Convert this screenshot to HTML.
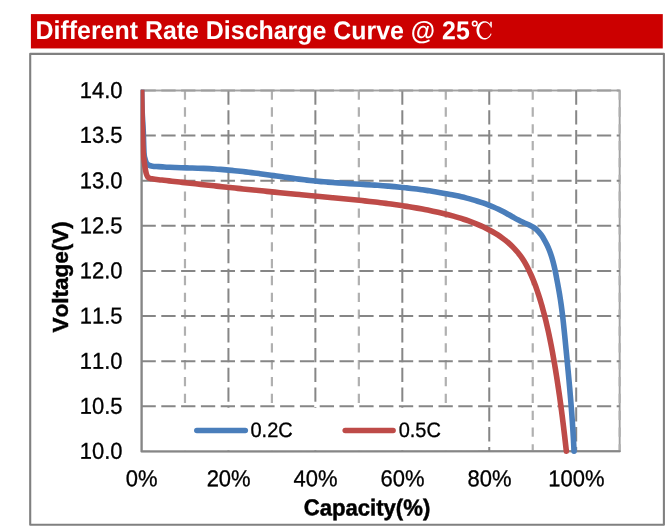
<!DOCTYPE html>
<html><head><meta charset="utf-8"><title>Different Rate Discharge Curve</title>
<style>
html,body{margin:0;padding:0;background:#fff;}
body{width:671px;height:531px;overflow:hidden;position:relative;font-family:"Liberation Sans",sans-serif;}
svg{position:absolute;left:0;top:0;will-change:transform;}
svg text{font-family:"Liberation Sans",sans-serif;fill:#000;font-kerning:none;}
svg text.r{stroke:#000;stroke-width:0.3px;}
svg text.bk{stroke:#000;stroke-width:0.45px;}
svg text.b{font-weight:bold;}
</style></head>
<body>
<svg width="671" height="531" viewBox="0 0 671 531">
<rect x="30.9" y="14.1" width="631.9" height="34.35" fill="#cc0000"/>
<text transform="translate(35.55 39.0) rotate(0.03) scale(0.9975 1.03)" font-size="25" class="b" style="fill:#fff">Different Rate Discharge Curve @ 25</text>
<rect x="30.2" y="53.85" width="633.7" height="470.85" fill="#fff" stroke="#808080" stroke-width="2.1" stroke-linejoin="round"/>
<rect x="141.50" y="90.50" width="478.17" height="360.75" fill="none" stroke="#a2a2a2" stroke-width="1.9"/>
<line x1="184.97" y1="90.50" x2="184.97" y2="451.25" stroke="#b0b0b0" stroke-width="2.2" stroke-dasharray="9.3 7.55"/>
<line x1="271.91" y1="90.50" x2="271.91" y2="451.25" stroke="#b0b0b0" stroke-width="2.2" stroke-dasharray="9.3 7.55"/>
<line x1="358.85" y1="90.50" x2="358.85" y2="451.25" stroke="#b0b0b0" stroke-width="2.2" stroke-dasharray="9.3 7.55"/>
<line x1="445.79" y1="90.50" x2="445.79" y2="451.25" stroke="#b0b0b0" stroke-width="2.2" stroke-dasharray="9.3 7.55"/>
<line x1="532.73" y1="90.50" x2="532.73" y2="451.25" stroke="#b0b0b0" stroke-width="2.2" stroke-dasharray="9.3 7.55"/>
<line x1="619.67" y1="90.50" x2="619.67" y2="451.25" stroke="#b0b0b0" stroke-width="2.2" stroke-dasharray="9.3 7.55"/>
<line x1="228.44" y1="90.50" x2="228.44" y2="451.25" stroke="#868686" stroke-width="2" stroke-dasharray="14.3 5.5"/>
<line x1="315.38" y1="90.50" x2="315.38" y2="451.25" stroke="#868686" stroke-width="2" stroke-dasharray="14.3 5.5"/>
<line x1="402.32" y1="90.50" x2="402.32" y2="451.25" stroke="#868686" stroke-width="2" stroke-dasharray="14.3 5.5"/>
<line x1="489.26" y1="90.50" x2="489.26" y2="451.25" stroke="#868686" stroke-width="2" stroke-dasharray="14.3 5.5"/>
<line x1="576.20" y1="90.50" x2="576.20" y2="451.25" stroke="#868686" stroke-width="2" stroke-dasharray="14.3 5.5"/>
<rect x="150" y="407.95" width="328" height="42.30" fill="#fff"/>
<line x1="141.50" y1="90.50" x2="619.67" y2="90.50" stroke="#9e9e9e" stroke-width="2" stroke-dasharray="14.3 5.5"/>
<line x1="141.50" y1="135.40" x2="619.67" y2="135.40" stroke="#868686" stroke-width="2" stroke-dasharray="14.3 5.5"/>
<line x1="141.50" y1="180.85" x2="619.67" y2="180.85" stroke="#868686" stroke-width="2" stroke-dasharray="14.3 5.5"/>
<line x1="141.50" y1="225.85" x2="619.67" y2="225.85" stroke="#868686" stroke-width="2" stroke-dasharray="14.3 5.5"/>
<line x1="141.50" y1="270.90" x2="619.67" y2="270.90" stroke="#868686" stroke-width="2" stroke-dasharray="14.3 5.5"/>
<line x1="141.50" y1="315.95" x2="619.67" y2="315.95" stroke="#868686" stroke-width="2" stroke-dasharray="14.3 5.5"/>
<line x1="141.50" y1="361.25" x2="619.67" y2="361.25" stroke="#868686" stroke-width="2" stroke-dasharray="14.3 5.5"/>
<line x1="141.50" y1="406.35" x2="619.67" y2="406.35" stroke="#868686" stroke-width="2" stroke-dasharray="14.3 5.5"/>
<path d="M141.65 90.50 L141.65 451.50 L619.67 451.15" fill="none" stroke="#868686" stroke-width="2.0" stroke-linejoin="round" stroke-linecap="round"/>
<clipPath id="pc"><rect x="140.75" y="89.7" width="500" height="366"/></clipPath>
<path clip-path="url(#pc)" d="M141.65 88.00 C141.72 91.67 141.84 103.00 142.10 110.00 C142.36 117.00 142.88 122.90 143.20 130.00 C143.52 137.10 143.72 147.85 144.00 152.60 C144.28 157.35 144.50 156.78 144.90 158.50 C145.30 160.22 145.72 161.77 146.40 162.90 C147.08 164.03 147.98 164.75 149.00 165.30 C150.02 165.85 150.90 165.98 152.50 166.20 C154.10 166.42 156.65 166.49 158.60 166.63 C160.55 166.76 162.35 166.90 164.22 167.01 C166.09 167.13 167.97 167.22 169.85 167.31 C171.72 167.39 173.60 167.47 175.48 167.53 C177.36 167.60 179.24 167.66 181.12 167.71 C182.99 167.77 184.87 167.82 186.75 167.87 C188.63 167.92 190.51 167.97 192.39 168.02 C194.27 168.07 196.15 168.13 198.03 168.19 C199.91 168.25 201.79 168.32 203.67 168.40 C205.54 168.48 207.42 168.57 209.30 168.67 C211.17 168.77 213.05 168.89 214.92 169.01 C216.80 169.13 218.67 169.27 220.55 169.41 C222.42 169.56 224.29 169.71 226.16 169.88 C228.04 170.04 229.91 170.21 231.78 170.39 C233.65 170.58 235.52 170.77 237.39 170.96 C239.25 171.16 241.12 171.37 242.99 171.58 C244.86 171.79 246.72 172.01 248.59 172.24 C250.45 172.47 252.32 172.70 254.18 172.94 C256.05 173.18 257.91 173.42 259.77 173.67 C261.64 173.92 263.50 174.18 265.36 174.44 C267.22 174.69 269.08 174.96 270.95 175.22 C272.81 175.48 274.67 175.75 276.53 176.01 C278.39 176.28 280.25 176.55 282.11 176.81 C283.97 177.07 285.83 177.34 287.69 177.60 C289.55 177.86 291.41 178.12 293.27 178.37 C295.13 178.62 297.00 178.87 298.86 179.11 C300.72 179.35 302.58 179.59 304.45 179.81 C306.31 180.04 308.18 180.26 310.04 180.47 C311.91 180.68 313.78 180.88 315.64 181.07 C317.51 181.26 319.38 181.43 321.25 181.60 C323.12 181.77 325.00 181.93 326.87 182.08 C328.74 182.23 330.61 182.37 332.49 182.51 C334.36 182.65 336.24 182.78 338.11 182.90 C339.99 183.03 341.87 183.15 343.74 183.26 C345.62 183.38 347.50 183.49 349.37 183.60 C351.25 183.71 353.13 183.82 355.01 183.93 C356.88 184.04 358.76 184.15 360.64 184.26 C362.52 184.36 364.39 184.47 366.27 184.59 C368.15 184.70 370.03 184.81 371.90 184.93 C373.78 185.05 375.65 185.18 377.53 185.31 C379.41 185.44 381.28 185.57 383.15 185.71 C385.03 185.86 386.90 186.00 388.77 186.16 C390.65 186.32 392.52 186.48 394.39 186.65 C396.26 186.82 398.13 187.00 400.00 187.19 C401.87 187.37 403.73 187.57 405.60 187.77 C407.47 187.97 409.34 188.19 411.20 188.41 C413.07 188.63 414.93 188.86 416.79 189.09 C418.66 189.33 420.52 189.58 422.38 189.84 C424.24 190.09 426.10 190.36 427.96 190.64 C429.82 190.91 431.68 191.20 433.53 191.50 C435.39 191.79 437.25 192.10 439.10 192.42 C440.96 192.74 442.81 193.06 444.66 193.40 C446.51 193.74 448.37 194.09 450.21 194.46 C452.06 194.82 453.91 195.20 455.75 195.59 C457.59 195.98 459.43 196.39 461.27 196.82 C463.10 197.24 464.93 197.69 466.75 198.15 C468.57 198.62 470.39 199.10 472.19 199.61 C474.00 200.12 475.80 200.65 477.59 201.21 C479.38 201.77 481.16 202.35 482.93 202.96 C484.70 203.58 486.46 204.21 488.21 204.88 C489.95 205.56 491.69 206.25 493.41 206.99 C495.13 207.72 496.84 208.49 498.53 209.29 C500.23 210.09 501.90 210.93 503.57 211.81 C505.23 212.68 506.87 213.61 508.51 214.53 C510.16 215.45 511.79 216.41 513.44 217.32 C515.09 218.24 516.74 219.17 518.42 220.03 C520.10 220.90 521.81 221.71 523.53 222.50 C525.25 223.29 527.05 223.96 528.73 224.78 C530.42 225.61 532.13 226.42 533.66 227.44 C535.20 228.46 536.64 229.60 537.94 230.89 C539.24 232.19 540.37 233.68 541.45 235.21 C542.54 236.73 543.51 238.38 544.44 240.03 C545.38 241.67 546.25 243.37 547.07 245.08 C547.89 246.79 548.65 248.53 549.34 250.29 C550.04 252.04 550.67 253.81 551.26 255.59 C551.85 257.38 552.37 259.17 552.86 260.97 C553.36 262.78 553.80 264.59 554.22 266.41 C554.65 268.24 555.03 270.07 555.41 271.90 C555.79 273.73 556.14 275.58 556.49 277.42 C556.85 279.26 557.19 281.11 557.54 282.96 C557.88 284.81 558.22 286.66 558.55 288.51 C558.88 290.37 559.20 292.22 559.51 294.08 C559.82 295.94 560.12 297.80 560.41 299.66 C560.70 301.52 560.97 303.38 561.23 305.24 C561.49 307.10 561.74 308.96 561.98 310.82 C562.22 312.69 562.44 314.55 562.66 316.42 C562.88 318.28 563.09 320.15 563.30 322.01 C563.50 323.88 563.70 325.74 563.89 327.61 C564.09 329.48 564.28 331.35 564.47 333.21 C564.65 335.08 564.84 336.95 565.02 338.82 C565.21 340.69 565.39 342.56 565.57 344.43 C565.76 346.29 565.94 348.16 566.12 350.03 C566.30 351.90 566.49 353.77 566.67 355.64 C566.85 357.51 567.03 359.38 567.21 361.25 C567.39 363.13 567.57 365.00 567.74 366.87 C567.92 368.74 568.10 370.61 568.27 372.48 C568.44 374.35 568.62 376.22 568.79 378.10 C568.96 379.97 569.13 381.84 569.29 383.71 C569.46 385.59 569.63 387.46 569.79 389.33 C569.95 391.20 570.11 393.08 570.27 394.95 C570.43 396.82 570.58 398.70 570.74 400.57 C570.89 402.44 571.04 404.32 571.19 406.19 C571.33 408.07 571.48 409.94 571.62 411.81 C571.76 413.69 571.90 415.56 572.03 417.44 C572.17 419.31 572.30 421.19 572.43 423.06 C572.55 424.94 572.68 426.81 572.80 428.69 C572.92 430.56 573.03 432.44 573.14 434.31 C573.26 436.19 573.36 438.06 573.47 439.94 C573.57 441.82 573.67 443.69 573.76 445.57 C573.86 447.44 573.99 450.26 574.03 451.19" fill="none" stroke="#4a7ebb" stroke-width="5.60" stroke-linecap="round" stroke-linejoin="round"/>
<path clip-path="url(#pc)" d="M141.65 88.00 C141.72 92.67 141.96 109.00 142.10 116.00 C142.24 123.00 142.32 123.90 142.50 130.00 C142.68 136.10 142.85 146.93 143.20 152.60 C143.55 158.27 144.23 161.17 144.60 164.00 C144.97 166.83 145.10 167.93 145.40 169.60 C145.70 171.27 145.98 172.72 146.40 174.00 C146.82 175.28 147.30 176.57 147.90 177.30 C148.50 178.03 149.32 178.15 150.00 178.40 C150.68 178.65 150.57 178.58 152.00 178.80 C153.43 179.02 156.60 179.45 158.58 179.70 C160.55 179.95 162.10 180.09 163.86 180.29 C165.62 180.49 167.38 180.69 169.14 180.89 C170.90 181.08 172.67 181.28 174.43 181.48 C176.19 181.68 177.95 181.87 179.71 182.07 C181.47 182.26 183.23 182.46 184.99 182.65 C186.75 182.85 188.51 183.04 190.27 183.24 C192.03 183.43 193.79 183.63 195.55 183.82 C197.31 184.01 199.07 184.20 200.83 184.40 C202.59 184.59 204.35 184.78 206.11 184.97 C207.87 185.16 209.63 185.35 211.39 185.54 C213.15 185.73 214.91 185.92 216.67 186.11 C218.43 186.30 220.19 186.49 221.95 186.68 C223.71 186.87 225.47 187.06 227.23 187.24 C228.99 187.43 230.75 187.62 232.51 187.80 C234.27 187.99 236.03 188.17 237.79 188.36 C239.55 188.54 241.31 188.73 243.07 188.91 C244.83 189.09 246.59 189.28 248.35 189.46 C250.11 189.64 251.87 189.82 253.63 190.00 C255.39 190.19 257.15 190.37 258.91 190.55 C260.67 190.73 262.43 190.91 264.19 191.08 C265.95 191.26 267.71 191.44 269.47 191.62 C271.23 191.79 272.99 191.97 274.75 192.15 C276.52 192.32 278.28 192.50 280.04 192.67 C281.80 192.85 283.56 193.02 285.32 193.19 C287.08 193.37 288.85 193.54 290.61 193.71 C292.37 193.88 294.13 194.05 295.90 194.22 C297.66 194.40 299.42 194.56 301.18 194.73 C302.95 194.90 304.71 195.07 306.47 195.24 C308.24 195.41 310.00 195.57 311.76 195.74 C313.53 195.90 315.29 196.07 317.05 196.23 C318.82 196.40 320.58 196.56 322.35 196.72 C324.11 196.89 325.88 197.05 327.64 197.21 C329.41 197.38 331.17 197.54 332.93 197.71 C334.70 197.87 336.46 198.04 338.23 198.20 C339.99 198.37 341.76 198.54 343.52 198.71 C345.29 198.88 347.05 199.05 348.81 199.22 C350.58 199.39 352.34 199.57 354.10 199.75 C355.86 199.93 357.63 200.11 359.39 200.29 C361.15 200.48 362.91 200.66 364.67 200.85 C366.43 201.04 368.19 201.24 369.95 201.44 C371.71 201.64 373.47 201.84 375.23 202.05 C376.99 202.25 378.74 202.46 380.50 202.68 C382.26 202.90 384.01 203.12 385.77 203.35 C387.52 203.57 389.28 203.81 391.03 204.04 C392.78 204.28 394.53 204.53 396.28 204.78 C398.03 205.03 399.78 205.29 401.53 205.55 C403.28 205.81 405.03 206.08 406.77 206.36 C408.52 206.64 410.26 206.93 412.01 207.22 C413.75 207.51 415.49 207.82 417.23 208.13 C418.97 208.44 420.71 208.75 422.45 209.08 C424.19 209.41 425.92 209.74 427.66 210.09 C429.39 210.43 431.12 210.78 432.85 211.15 C434.58 211.52 436.31 211.89 438.04 212.28 C439.76 212.67 441.49 213.07 443.20 213.48 C444.92 213.90 446.64 214.32 448.35 214.77 C450.07 215.22 451.78 215.68 453.48 216.15 C455.19 216.63 456.89 217.13 458.58 217.64 C460.28 218.16 461.97 218.69 463.66 219.25 C465.35 219.80 467.03 220.38 468.70 220.98 C470.38 221.58 472.05 222.20 473.71 222.84 C475.37 223.49 477.02 224.16 478.66 224.86 C480.30 225.56 481.92 226.29 483.53 227.04 C485.14 227.80 486.74 228.59 488.31 229.40 C489.89 230.22 491.45 231.07 492.98 231.96 C494.51 232.85 496.03 233.77 497.51 234.72 C499.00 235.68 500.46 236.68 501.89 237.71 C503.32 238.75 504.73 239.82 506.10 240.93 C507.47 242.05 508.81 243.20 510.11 244.40 C511.41 245.59 512.68 246.82 513.90 248.09 C515.12 249.37 516.30 250.68 517.43 252.03 C518.56 253.38 519.65 254.77 520.68 256.20 C521.72 257.62 522.70 259.10 523.63 260.59 C524.57 262.09 525.45 263.63 526.31 265.19 C527.16 266.74 527.96 268.32 528.75 269.92 C529.53 271.51 530.27 273.12 530.99 274.74 C531.72 276.36 532.41 277.99 533.08 279.63 C533.75 281.27 534.39 282.92 535.02 284.58 C535.64 286.24 536.24 287.90 536.82 289.58 C537.40 291.25 537.96 292.93 538.51 294.62 C539.06 296.30 539.59 297.99 540.10 299.68 C540.62 301.38 541.12 303.07 541.61 304.77 C542.10 306.47 542.58 308.18 543.04 309.88 C543.51 311.59 543.96 313.30 544.40 315.01 C544.85 316.72 545.28 318.44 545.70 320.15 C546.12 321.87 546.53 323.59 546.93 325.31 C547.33 327.03 547.72 328.76 548.10 330.48 C548.48 332.21 548.86 333.94 549.22 335.67 C549.58 337.40 549.94 339.13 550.29 340.86 C550.64 342.60 550.98 344.33 551.31 346.07 C551.65 347.80 551.97 349.54 552.30 351.28 C552.62 353.02 552.93 354.76 553.24 356.51 C553.56 358.25 553.86 359.99 554.16 361.74 C554.46 363.48 554.76 365.23 555.05 366.97 C555.34 368.72 555.63 370.46 555.91 372.21 C556.19 373.96 556.47 375.71 556.75 377.46 C557.02 379.21 557.29 380.96 557.56 382.71 C557.83 384.46 558.09 386.21 558.35 387.96 C558.61 389.71 558.86 391.47 559.12 393.22 C559.37 394.97 559.62 396.73 559.86 398.48 C560.11 400.24 560.35 401.99 560.59 403.75 C560.82 405.50 561.06 407.26 561.29 409.01 C561.52 410.77 561.75 412.52 561.98 414.28 C562.20 416.04 562.43 417.79 562.65 419.55 C562.87 421.31 563.08 423.07 563.30 424.82 C563.51 426.58 563.73 428.34 563.93 430.10 C564.14 431.85 564.35 433.61 564.56 435.37 C564.76 437.13 564.96 438.89 565.16 440.64 C565.36 442.40 565.56 444.16 565.76 445.92 C565.96 447.68 566.25 450.31 566.34 451.19" fill="none" stroke="#be4b48" stroke-width="5.60" stroke-linecap="round" stroke-linejoin="round"/>
<line x1="196.8" y1="430.4" x2="245.3" y2="430.4" stroke="#4a7ebb" stroke-width="5.5" stroke-linecap="round"/>
<line x1="345.2" y1="430.4" x2="393.1" y2="430.4" stroke="#be4b48" stroke-width="5.5" stroke-linecap="round"/>
<text transform="translate(250.50 437.10) rotate(0.03) scale(1.0000 1.0450)" font-size="20" text-anchor="start" class="r">0.2C</text>
<text transform="translate(398.70 437.10) rotate(0.03) scale(1.0000 1.0450)" font-size="20" text-anchor="start" class="r">0.5C</text>
<text transform="translate(122.50 97.95) rotate(0.03) scale(1.0000 1.0450)" font-size="22" text-anchor="end" class="r">14.0</text>
<text transform="translate(122.50 142.85) rotate(0.03) scale(1.0000 1.0450)" font-size="22" text-anchor="end" class="r">13.5</text>
<text transform="translate(122.50 188.30) rotate(0.03) scale(1.0000 1.0450)" font-size="22" text-anchor="end" class="r">13.0</text>
<text transform="translate(122.50 233.30) rotate(0.03) scale(1.0000 1.0450)" font-size="22" text-anchor="end" class="r">12.5</text>
<text transform="translate(122.50 278.35) rotate(0.03) scale(1.0000 1.0450)" font-size="22" text-anchor="end" class="r">12.0</text>
<text transform="translate(122.50 323.40) rotate(0.03) scale(1.0000 1.0450)" font-size="22" text-anchor="end" class="r">11.5</text>
<text transform="translate(122.50 368.70) rotate(0.03) scale(1.0000 1.0450)" font-size="22" text-anchor="end" class="r">11.0</text>
<text transform="translate(122.50 413.80) rotate(0.03) scale(1.0000 1.0450)" font-size="22" text-anchor="end" class="r">10.5</text>
<text transform="translate(122.50 458.70) rotate(0.03) scale(1.0000 1.0450)" font-size="22" text-anchor="end" class="r">10.0</text>
<text transform="translate(141.70 486.20) rotate(0.03) scale(1.0000 1.0450)" font-size="22" text-anchor="middle" class="r">0%</text>
<text transform="translate(228.64 486.20) rotate(0.03) scale(1.0000 1.0450)" font-size="22" text-anchor="middle" class="r">20%</text>
<text transform="translate(315.58 486.20) rotate(0.03) scale(1.0000 1.0450)" font-size="22" text-anchor="middle" class="r">40%</text>
<text transform="translate(402.52 486.20) rotate(0.03) scale(1.0000 1.0450)" font-size="22" text-anchor="middle" class="r">60%</text>
<text transform="translate(489.46 486.20) rotate(0.03) scale(1.0000 1.0450)" font-size="22" text-anchor="middle" class="r">80%</text>
<text transform="translate(576.40 486.20) rotate(0.03) scale(1.0000 1.0450)" font-size="22" text-anchor="middle" class="r">100%</text>
<text transform="translate(367.00 515.40) rotate(0.03) scale(1.0050 1.0450)" font-size="22" text-anchor="middle" class="b bk">Capacity(%)</text>
<text transform="translate(68.30 276.90) rotate(-90) scale(1.0250 1.0300)" font-size="22" text-anchor="middle" class="b bk">Voltage(V)</text>
<g fill="#fff" stroke="none"><path d="M490.91 25.50 L490.45 24.72 L489.91 23.99 L489.31 23.34 L488.66 22.76 L487.96 22.27 L487.22 21.87 L486.45 21.55 L485.65 21.34 L484.84 21.22 L484.03 21.21 L483.21 21.29 L482.41 21.47 L481.63 21.75 L480.88 22.13 L480.17 22.59 L479.50 23.14 L478.88 23.77 L478.32 24.47 L477.83 25.23 L477.41 26.05 L477.07 26.92 L476.80 27.83 L476.62 28.76 L476.52 29.71 L476.50 30.67 L476.58 31.62 L476.73 32.56 L476.97 33.48 L477.29 34.36 L477.69 35.20 L478.15 35.98 L478.69 36.71 L479.29 37.36 L479.94 37.94 L480.64 38.43 L481.38 38.83 L482.15 39.15 L482.95 39.36 L483.76 39.48 L484.57 39.49 L485.39 39.41 L486.19 39.23 L486.97 38.95 L487.72 38.57 L488.43 38.11 L489.10 37.56 L489.72 36.93 L490.28 36.23 L490.77 35.47 L491.19 34.65 L491.53 33.78 L490.59 33.50 L490.30 34.23 L489.96 34.91 L489.57 35.54 L489.13 36.11 L488.65 36.62 L488.12 37.06 L487.57 37.43 L486.99 37.72 L486.39 37.93 L485.77 38.06 L485.15 38.10 L484.53 38.06 L483.91 37.93 L483.31 37.72 L482.73 37.43 L482.17 37.06 L481.65 36.62 L481.17 36.11 L480.73 35.54 L480.34 34.91 L480.00 34.23 L479.71 33.50 L479.49 32.74 L479.33 31.96 L479.23 31.16 L479.20 30.35 L479.23 29.54 L479.33 28.74 L479.49 27.96 L479.71 27.20 L480.00 26.48 L480.34 25.79 L480.73 25.16 L481.17 24.59 L481.65 24.08 L482.17 23.64 L482.73 23.27 L483.31 22.98 L483.91 22.77 L484.53 22.64 L485.15 22.60 L485.77 22.64 L486.39 22.77 L486.99 22.98 L487.57 23.27 L488.12 23.64 L488.65 24.08 L489.13 24.59 L489.57 25.16 L489.96 25.79Z"/><path d="M490.2 21.8 L491.8 21.8 L491.8 27.4 L490.9 27.4 L490.2 25.4Z"/></g><circle cx="474.75" cy="23.5" r="2.3" fill="none" stroke="#fff" stroke-width="1.6"/>
</svg>
</body></html>
